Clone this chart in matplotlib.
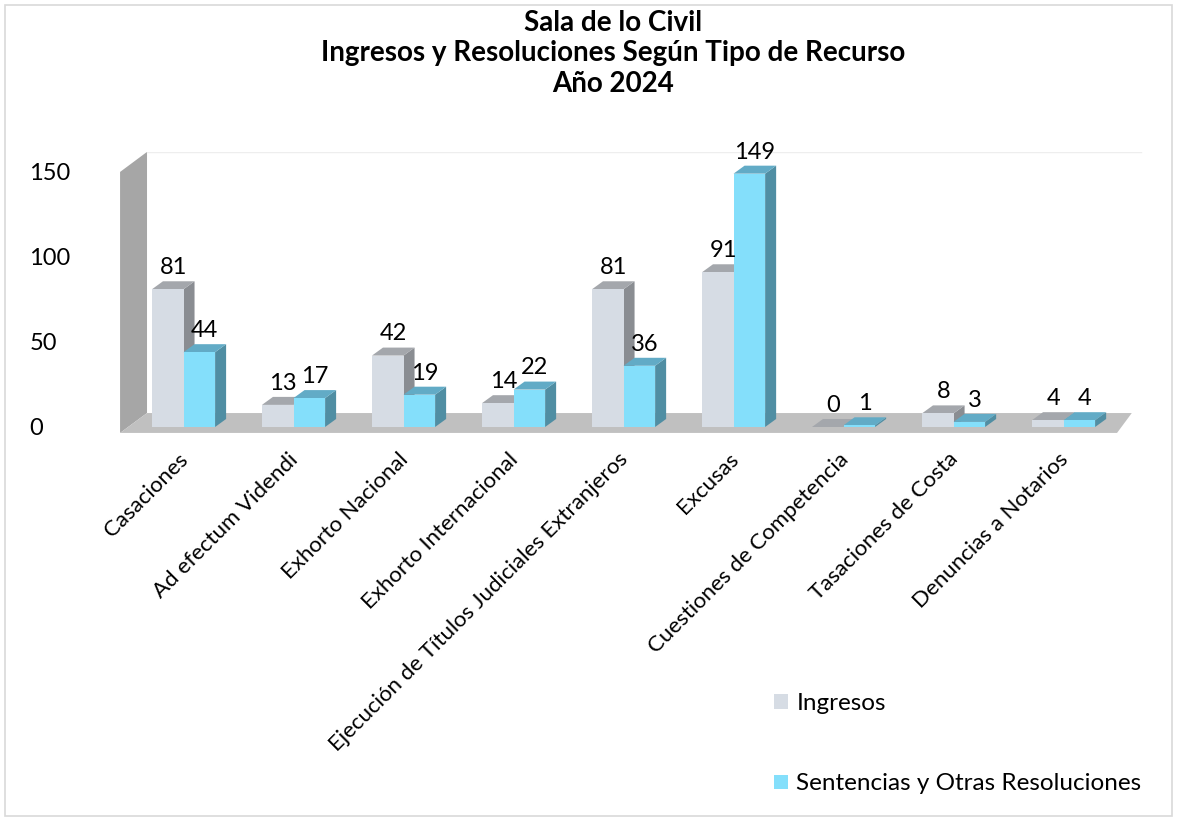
import matplotlib.pyplot as plt
from matplotlib.patches import Polygon, Rectangle, Patch

plt.rcParams['font.family'] = ['Lato', 'DejaVu Sans']

categorias = ["Casaciones", "Ad efectum Videndi", "Exhorto Nacional", "Exhorto Internacional",
              "Ejecución de Títulos Judiciales Extranjeros", "Excusas", "Cuestiones de Competencia",
              "Tasaciones de Costa", "Denuncias a Notarios"]
ingresos = [81, 13, 42, 14, 81, 91, 0, 8, 4]
sentencias = [44, 17, 19, 22, 36, 149, 1, 3, 4]
series = ["Ingresos", "Sentencias y Otras Resoluciones"]
yticks = [0, 50, 100, 150]

# colores: frente, tapa, lado
col_ing = ("#d6dce4", "#a4a7ac", "#8a8d92")
col_sen = ("#84dffb", "#62abc6", "#508ea3")

fig = plt.figure(figsize=(11.77, 8.21), dpi=100)
fig.patches.append(Rectangle((0.004, 0.006), 0.992, 0.988, transform=fig.transFigure,
                             fill=False, edgecolor="#d9d9d9", lw=1.2))

ax = fig.add_axes([0.0935, 0.4675, 0.8836, 0.3479])
ax.set_xlim(-0.668, 8.786)
ax.set_ylim(-6, 162)
for s in ax.spines.values():
    s.set_visible(False)
ax.set_xticks([])
ax.set_yticks(yticks)
ax.tick_params(axis='y', length=0, pad=58, labelsize=17)
for lab in ax.get_yticklabels():
    lab.set_ha('left')

# pared y piso
ax.add_patch(Polygon([(-0.577, -3.5), (-0.577, 150), (-0.332, 161.8), (-0.332, 8.2)],
                     closed=True, facecolor="#a6a6a6", edgecolor="none"))
ax.add_patch(Polygon([(-0.577, -3.5), (8.486, -3.5), (8.62, 8.2), (-0.332, 8.2)],
                     closed=True, facecolor="#c0c0c0", edgecolor="none"))
ax.plot([-0.332, 8.7], [161.8, 161.8], color="#eeeeee", lw=1)

w = 0.287
dx, dy = 0.1, 4.7


def barra(x0, v, cols):
    front, top, side = cols
    ax.add_patch(Polygon([(x0 + w, 0), (x0 + w + dx, dy), (x0 + w + dx, v + dy), (x0 + w, v)],
                         closed=True, facecolor=side, edgecolor="none"))
    ax.add_patch(Polygon([(x0, v), (x0 + dx, v + dy), (x0 + w + dx, v + dy), (x0 + w, v)],
                         closed=True, facecolor=top, edgecolor="none"))
    if v > 0:
        ax.add_patch(Rectangle((x0, 0), w, v, facecolor=front, edgecolor="none"))
    ax.text(x0 + w / 2 + dx / 2, v + dy + 8, str(v), ha='center', va='center', fontsize=17)


for i, cat in enumerate(categorias):
    barra(i - w, ingresos[i], col_ing)
    barra(i, sentencias[i], col_sen)
    ax.text(i - 0.05, -13, cat, rotation=45, rotation_mode='anchor', ha='right', va='top',
            fontsize=16, clip_on=False)

fig.text(0.521, 0.988, "Sala de lo Civil\nIngresos y Resoluciones Según Tipo de Recurso\nAño 2024",
         ha='center', va='top', fontsize=20, fontweight='bold', linespacing=1.22)

handles = [Patch(facecolor=col_ing[0]), Patch(facecolor=col_sen[0])]
fig.legend(handles, series, loc='upper left', bbox_to_anchor=(0.658, 0.156), frameon=False,
           fontsize=17.5, handlelength=0.55, handleheight=0.55, handletextpad=0.35, labelspacing=2.45,
           borderaxespad=0, borderpad=0)

fig.savefig("out.png", dpi=100)
